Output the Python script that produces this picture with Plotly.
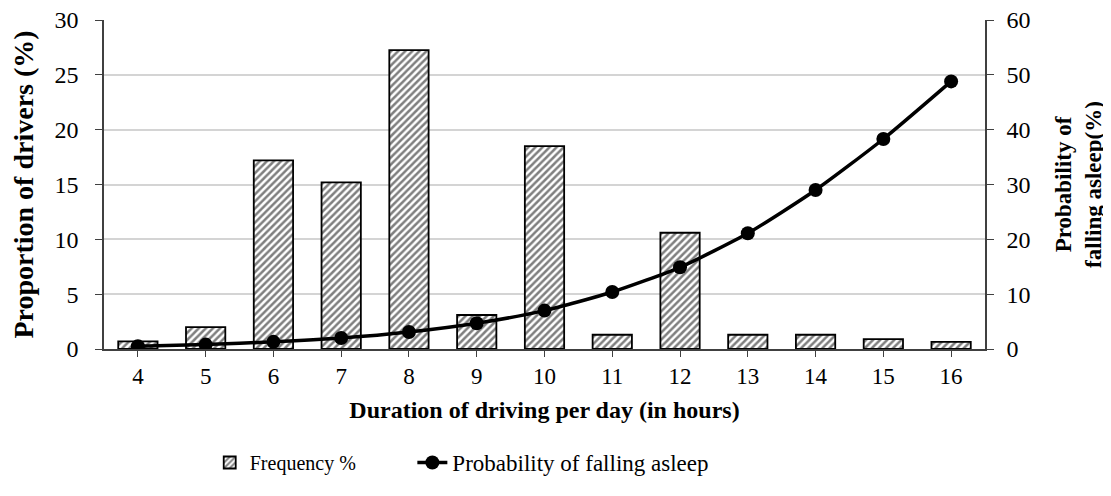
import plotly.graph_objects as go

hours = [4, 5, 6, 7, 8, 9, 10, 11, 12, 13, 14, 15, 16]
frequency_pct = [0.7, 2.0, 17.2, 15.2, 27.25, 3.1, 18.5, 1.3, 10.6, 1.3, 1.3, 0.9, 0.65]
prob_asleep = [0.5, 0.8, 1.3, 2.0, 3.1, 4.7, 7.0, 10.4, 14.9, 21.1, 29.0, 38.3, 48.8]

FONT = "Liberation Serif"
AXIS = "#404040"

fig = go.Figure()
fig.add_trace(go.Bar(
    x=hours, y=frequency_pct, name="Frequency %", width=0.58, legend="legend",
    marker=dict(color="white", line=dict(color="black", width=1.8),
                pattern=dict(shape="/", fgcolor="black", bgcolor="white", size=5, solidity=0.5)),
))
fig.add_trace(go.Scatter(
    x=hours, y=prob_asleep, name="Probability of falling asleep", yaxis="y2", legend="legend2",
    mode="lines+markers", line=dict(color="black", width=3.5, shape="spline", smoothing=0.6),
    marker=dict(color="black", size=14),
))

# the page body has an 8px margin, so the figure is sized to fit the window
fig.update_layout(
    width=1103, height=488,
    margin=dict(l=96, r=126, t=12, b=144),
    paper_bgcolor="white", plot_bgcolor="white",
    font=dict(family=FONT, size=23, color="black"),
    showlegend=True,
    legend=dict(x=0.120, xanchor="left", y=-0.345, yanchor="middle",
                font=dict(family=FONT, size=20), bgcolor="rgba(0,0,0,0)"),
    legend2=dict(x=0.350, xanchor="left", y=-0.345, yanchor="middle",
                 font=dict(family=FONT, size=23), bgcolor="rgba(0,0,0,0)"),
    xaxis=dict(range=[3.5, 16.5], tickvals=hours, ticks="outside", ticklen=6,
               tickcolor=AXIS, showline=True, linecolor=AXIS, linewidth=1.5,
               showgrid=False, zeroline=False, tickfont=dict(size=23), automargin=False,
               title=dict(text="<b>Duration of driving per day (in hours)</b>", standoff=13,
                          font=dict(family=FONT, size=24))),
    yaxis=dict(range=[0, 30.001], tickvals=[0, 5, 10, 15, 20, 25, 30], ticks="outside", ticklen=7,
               tickcolor=AXIS, showline=True, linecolor=AXIS, linewidth=1.5,
               gridcolor="#d4d4d4", gridwidth=1.5, zeroline=False, tickfont=dict(size=24),
               ticklabelstandoff=12, automargin=False, ticklabeloverflow="allow",
               title=dict(text="<b>Proportion of drivers (%)</b>", standoff=18,
                          font=dict(family=FONT, size=28))),
    yaxis2=dict(range=[0, 60.002], tickvals=[0, 10, 20, 30, 40, 50, 60], overlaying="y", side="right",
                ticks="outside", ticklen=7, tickcolor=AXIS, showline=True,
                linecolor=AXIS, linewidth=1.5, showgrid=False, zeroline=False,
                tickfont=dict(size=24), ticklabelstandoff=8, automargin=False,
                ticklabeloverflow="allow",
                title=dict(text="<b>Probability of<br>falling asleep(%)</b>", standoff=25,
                           font=dict(family=FONT, size=23))),
)

fig.write_html("out.html")
